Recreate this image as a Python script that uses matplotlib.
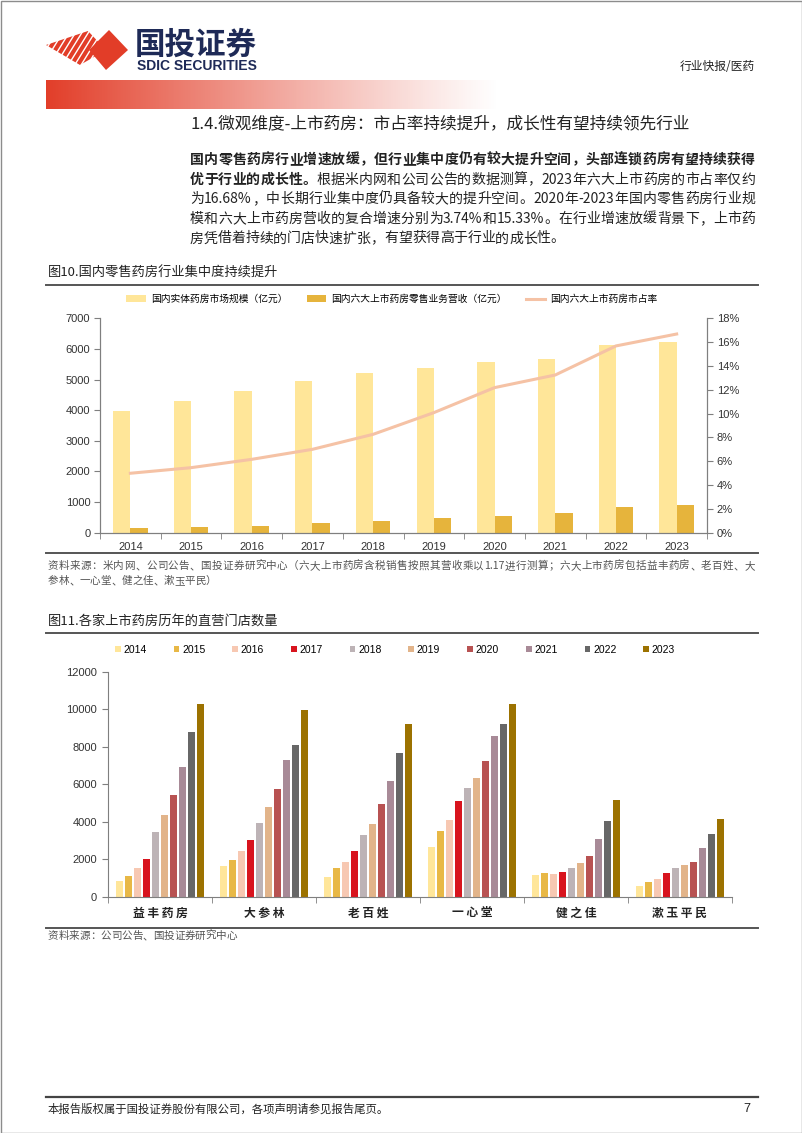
import numpy as np
import matplotlib
matplotlib.use('Agg')
import matplotlib.pyplot as plt
from matplotlib.patches import Rectangle, Polygon
from matplotlib.ticker import FuncFormatter

plt.rcParams['font.family'] = ['Noto Sans CJK SC', 'DejaVu Sans']

W, H = 802, 1133

# ---- 图10 data ----
years = ['2014', '2015', '2016', '2017', '2018', '2019', '2020', '2021', '2022', '2023']
market_size = [3970, 4310, 4640, 4960, 5200, 5370, 5560, 5680, 6120, 6220]     # 亿元
top6_revenue = [165, 195, 230, 305, 380, 470, 555, 635, 830, 895]              # 亿元
top6_share = [4.99, 5.46, 6.16, 7.00, 8.26, 10.08, 12.18, 13.24, 15.68, 16.68]  # %

# ---- 图11 data ----
chains = ['益丰药房', '大参林', '老百姓', '一心堂', '健之佳', '漱玉平民']
stores_yifeng = [850, 1100, 1550, 2010, 3470, 4370, 5410, 6900, 8780, 10280]
stores_dashenlin = [1640, 1960, 2450, 3040, 3910, 4770, 5740, 7290, 8080, 9970]
stores_laobaixing = [1050, 1550, 1870, 2450, 3310, 3890, 4930, 6150, 7650, 9210]
stores_yixintang = [2650, 3520, 4090, 5090, 5780, 6330, 7240, 8570, 9210, 10290]
stores_jianzhijia = [1140, 1260, 1210, 1320, 1530, 1800, 2190, 3090, 4050, 5140]
stores_shuyu = [570, 780, 940, 1280, 1530, 1710, 1870, 2610, 3360, 4130]
year_colors = ['#FFE69A', '#E8B846', '#F7C8B2', '#D8141E', '#BDB3B6',
               '#E2B48A', '#B85252', '#A88A97', '#676767', '#9C7200']

stores = np.array([stores_yifeng, stores_dashenlin, stores_laobaixing,
                   stores_yixintang, stores_jianzhijia, stores_shuyu])

CJK = ['Noto Sans CJK SC', 'DejaVu Sans']
LAT = ['Liberation Sans', 'DejaVu Sans']


def box(l, t, r, b):
    return [l / W, 1 - b / H, (r - l) / W, (b - t) / H]


fig = plt.figure(figsize=(W / 100, H / 100), dpi=100)
page = fig.add_axes([0, 0, 1, 1])
page.set_xlim(0, W)
page.set_ylim(H, 0)
page.axis('off')
renderer = fig.canvas.get_renderer()

# page frame
page.add_patch(Rectangle((0.5, 0.5), W - 1, H - 1, fill=False, ec='#8c8c8c', lw=1))

# logo
red = '#E23D28'
env = Polygon([(46, 45), (88, 31), (106, 50), (80, 65)], closed=True,
              transform=page.transData)
for x0 in np.arange(30, 110, 6.4):
    ln, = page.plot([x0, x0 + 26], [70, 28], color=red, lw=2.9, solid_capstyle='butt')
    ln.set_clip_path(env)
page.add_patch(Polygon([(109, 30), (128, 50), (106, 70), (89, 50)], closed=True,
                       fc=red, ec='none'))
page.text(135, 45, '国投证券', fontsize=22, fontweight='bold', color='#1E2A57',
          family=CJK, va='center', ha='left')
page.text(137, 66, 'SDIC SECURITIES', fontsize=10, fontweight='bold', color='#1E2A57',
          family=['Liberation Sans Narrow', 'Liberation Sans', 'DejaVu Sans'],
          va='center', ha='left')
page.text(755, 67, '行业快报/医药', fontsize=8.5, color='#222222', family=CJK,
          va='center', ha='right')

# red gradient band
t = np.linspace(0, 1, 400)
grad = np.zeros((1, 400, 4))
grad[0, :, 0] = 0.89
grad[0, :, 1] = 0.24
grad[0, :, 2] = 0.16
grad[0, :, 3] = np.clip(1 - t, 0, 1) ** 1.1
page.imshow(grad, extent=(46, 500, 109, 80), aspect='auto', interpolation='bilinear')
page.set_xlim(0, W)
page.set_ylim(H, 0)

# section title
page.text(190, 124, '1.4.微观维度-上市药房：市占率持续提升，成长性有望持续领先行业',
          fontsize=12, color='#222222', family=CJK, va='center', ha='left')


def draw_line(x0, x1, y, segments, size, justify=True, color='#222222', style='normal'):
    tokens = []
    for s, w in segments:
        buf = ''
        for ch in s:
            if ord(ch) < 128:
                buf += ch
            else:
                if buf:
                    tokens.append((buf, w))
                    buf = ''
                tokens.append((ch, w))
        if buf:
            tokens.append((buf, w))
    objs = []
    widths = []
    for s, w in tokens:
        o = page.text(0, y, s, fontsize=size, fontweight=w, color=color, family=CJK,
                      va='center', ha='left', style=style)
        widths.append(o.get_window_extent(renderer).width)
        objs.append(o)
    gap = 0.0
    if justify and len(objs) > 1:
        gap = (x1 - x0 - sum(widths)) / (len(objs) - 1)
    x = x0
    for o, wd in zip(objs, widths):
        o.set_x(x)
        x += wd + gap


para = [
    ([('国内零售药房行业增速放缓，但行业集中度仍有较大提升空间，头部连锁药房有望持续获得', 'bold')], True),
    ([('优于行业的成长性。', 'bold'), ('根据米内网和公司公告的数据测算，2023年六大上市药房的市占率仅约', 'normal')], True),
    ([('为16.68%，中长期行业集中度仍具备较大的提升空间。2020年-2023年国内零售药房行业规', 'normal')], True),
    ([('模和六大上市药房营收的复合增速分别为3.74%和15.33%。在行业增速放缓背景下，上市药', 'normal')], True),
    ([('房凭借着持续的门店快速扩张，有望获得高于行业的成长性。', 'normal')], False),
]
for i, (segs, just) in enumerate(para):
    draw_line(190, 755, 160 + i * 19.6, segs, 10, justify=just)

# ---- 图10 ----
page.text(48, 273, '图10.国内零售药房行业集中度持续提升', fontsize=9.5, color='#222222',
          family=CJK, va='center', ha='left')
page.plot([46, 758], [285, 285], color='#555555', lw=1.4)

ax = fig.add_axes(box(100, 318.3, 707, 532.7))
x = np.arange(len(years))
bw = 0.285
ax.bar(x, market_size, width=-bw, align='edge', color='#FFE699', label='国内实体药房市场规模（亿元）')
ax.bar(x, top6_revenue, width=bw, align='edge', color='#E6B43C', label='国内六大上市药房零售业务营收（亿元）')
ax.set_xlim(-0.5, len(years) - 0.5)
ax.set_ylim(0, 7000)
ax.set_yticks(np.arange(0, 7001, 1000))
ax.set_xticks(x)
ax.set_xticklabels(years)
ax.set_xticks(np.arange(-0.5, len(years), 1), minor=True)
ax.tick_params(axis='x', which='major', length=0, pad=7, labelsize=8, labelcolor='#333333')
ax.tick_params(axis='x', which='minor', length=4, direction='out', color='#7f7f7f')
ax.tick_params(axis='y', length=4, direction='out', color='#7f7f7f', labelsize=8,
               labelcolor='#333333', pad=3)
for lab in ax.get_xticklabels() + ax.get_yticklabels():
    lab.set_family(LAT)
ax.spines['top'].set_visible(False)
for s in ['left', 'right', 'bottom']:
    ax.spines[s].set_color('#7f7f7f')
ax.set_facecolor('none')

ax2 = ax.twinx()
ax2.plot(x, top6_share, color='#F5C2A5', lw=2.2, label='国内六大上市药房市占率')
ax2.set_ylim(0, 18)
ax2.set_yticks(np.arange(0, 19, 2))
ax2.yaxis.set_major_formatter(FuncFormatter(lambda v, p: f'{v:.0f}%'))
ax2.tick_params(axis='y', length=4, direction='out', color='#7f7f7f', labelsize=8,
                labelcolor='#333333', pad=3)
for lab in ax2.get_yticklabels():
    lab.set_family(LAT)
ax2.spines['top'].set_visible(False)
for s in ['left', 'right', 'bottom']:
    ax2.spines[s].set_color('#7f7f7f')

h1, l1 = ax.get_legend_handles_labels()
h2, l2 = ax2.get_legend_handles_labels()
fig.legend(h1 + h2, l1 + l2, loc='center', bbox_to_anchor=(392 / W, 1 - 299 / H),
           ncol=3, frameon=False, handlelength=2.0, handleheight=0.6,
           handletextpad=0.5, columnspacing=2.0, prop={'family': CJK, 'size': 7})

page.plot([46, 758], [553, 553], color='#555555', lw=1.4)
draw_line(48, 755, 566, [('资料来源：米内网、公司公告、国投证券研究中心（六大上市药房含税销售按照其营收乘以1.17进行测算；六大上市药房包括益丰药房、老百姓、大', 'normal')],
          7.6, justify=True, color='#555555', style='italic')
draw_line(48, 755, 581, [('参林、一心堂、健之佳、漱玉平民）', 'normal')], 7.6, justify=False,
          color='#555555', style='italic')

# ---- 图11 ----
page.text(48, 621, '图11.各家上市药房历年的直营门店数量', fontsize=9.5, color='#222222',
          family=CJK, va='center', ha='left')
page.plot([46, 758], [633, 633], color='#555555', lw=1.4)

bx = fig.add_axes(box(108.3, 671.7, 731.7, 896.7))
cx = np.arange(len(chains))
step = 0.0863
for j, yr in enumerate(years):
    bx.bar(cx + (j - 4.5) * step, stores[:, j], width=0.066, color=year_colors[j], label=yr)
bx.set_xlim(-0.5, len(chains) - 0.5)
bx.set_ylim(0, 12000)
bx.set_yticks(np.arange(0, 12001, 2000))
bx.set_xticks(cx)
bx.set_xticklabels([' '.join(c) for c in chains], family=CJK, fontsize=8.5,
                   color='#222222', fontweight='bold')
bx.set_xticks(np.arange(-0.5, len(chains), 1), minor=True)
bx.tick_params(axis='x', which='major', length=0, pad=7)
bx.tick_params(axis='x', which='minor', length=4, direction='out', color='#7f7f7f')
bx.tick_params(axis='y', length=4, direction='out', color='#7f7f7f', labelsize=8,
               labelcolor='#333333', pad=4)
for lab in bx.get_yticklabels():
    lab.set_family(LAT)
for s in ['top', 'right']:
    bx.spines[s].set_visible(False)
for s in ['left', 'bottom']:
    bx.spines[s].set_color('#7f7f7f')
bx.set_facecolor('none')

fig.legend(*bx.get_legend_handles_labels(), loc='center', bbox_to_anchor=(395 / W, 1 - 650 / H),
           ncol=10, frameon=False, handlelength=0.55, handleheight=0.55, handletextpad=0.25,
           columnspacing=2.6, prop={'family': LAT, 'size': 7.5})

page.plot([46, 758], [928, 928], color='#555555', lw=1.4)
draw_line(48, 755, 936, [('资料来源：公司公告、国投证券研究中心', 'normal')], 7.6, justify=False,
          color='#555555', style='italic')

# footer
page.plot([46, 758], [1097, 1097], color='#444444', lw=1.6)
page.text(48, 1109, '本报告版权属于国投证券股份有限公司，各项声明请参见报告尾页。', fontsize=8.2,
          color='#222222', family=CJK, va='center', ha='left')
page.text(750, 1109, '7', fontsize=9, color='#222222', family=LAT, va='center', ha='right')

fig.savefig('out.png', dpi=100)
